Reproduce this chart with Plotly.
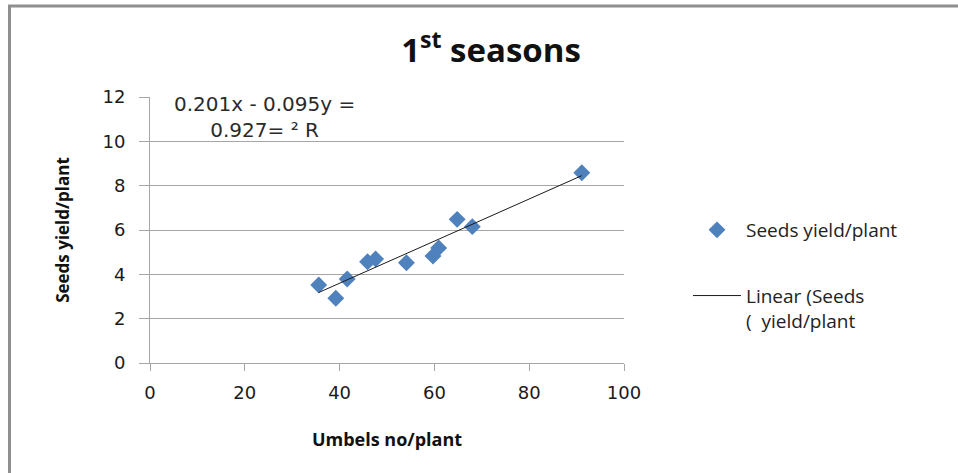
import plotly.graph_objects as go

# Umbels per plant vs. seed yield per plant, 1st season
umbels = [35.6, 39.2, 41.6, 45.9, 47.6, 54.1, 59.7, 60.9, 64.8, 68.0, 91.1]
seed_yield = [3.52, 2.92, 3.79, 4.57, 4.69, 4.52, 4.83, 5.19, 6.48, 6.15, 8.58]

# Linear trendline as printed on the chart: y = 0.095x - 0.201, R² = 0.927
slope = 0.095
intercept = -0.201
r_squared = 0.927

x_ticks = [0, 20, 40, 60, 80, 100]
y_ticks = [0, 2, 4, 6, 8, 10, 12]

W, H = 958, 473
L, R, T, B = 150, 334, 97, 110
pw, ph = W - L - R, H - T - B

def px_x(p):
    return (p - L) / pw

def px_y(p):
    return (H - B - p) / ph

trend_x = [min(umbels), max(umbels)]
trend_y = [slope * v + intercept for v in trend_x]

fig = go.Figure()
fig.add_trace(go.Scatter(
    x=umbels, y=seed_yield, mode="markers", name="Seeds yield/plant",
    legendgroup="pts",
    marker=dict(symbol="diamond", size=13, color="#4F81BD"),
))
fig.add_trace(go.Scatter(
    x=trend_x, y=trend_y, mode="lines", name="Linear (Seeds<br>(  yield/plant",
    legendgroup="fit",
    line=dict(color="#1a1a1a", width=1),
))

axis_font = dict(family="DejaVu Sans, sans-serif", size=18, color="#1a1a1a")
title_font = dict(family="Open Sans, sans-serif", size=17, color="#111111")

fig.update_xaxes(
    range=[0, 100], tickvals=x_ticks, showgrid=False, zeroline=False,
    showline=True, linecolor="#a6a6a6", linewidth=1,
    ticks="outside", ticklen=7, tickcolor="#a6a6a6",
    tickfont=axis_font, ticklabelstandoff=6,
    title=dict(text="<b>Umbels no/plant</b>", font=dict(title_font, size=18), standoff=31),
)
fig.update_yaxes(
    range=[0, 12], tickvals=y_ticks, showgrid=True, gridcolor="#a6a6a6", gridwidth=1,
    zeroline=False, showline=True, linecolor="#a6a6a6", linewidth=1,
    ticks="outside", ticklen=10, tickcolor="#a6a6a6",
    tickfont=axis_font, ticklabelstandoff=10,
    title=dict(text="<b>Seeds yield/plant</b>", font=title_font, standoff=28),
)

fig.add_annotation(
    x=px_x(264), y=px_y(117), xref="paper", yref="paper",
    xanchor="center", yanchor="middle",
    text=f"{intercept * -1:.3f}x - {slope:.3f}y =<br>{r_squared:.3f}= ² R",
    showarrow=False, align="center",
    font=dict(family="DejaVu Sans, sans-serif", size=20, color="#2a2a2a"),
)

# Outer frame (left and top edges)
fig.add_shape(type="line", xref="paper", yref="paper",
              x0=px_x(9.5), x1=px_x(9.5), y0=px_y(5), y1=px_y(480),
              line=dict(color="#8f8f8f", width=3))
fig.add_shape(type="line", xref="paper", yref="paper",
              x0=px_x(8), x1=px_x(965), y0=px_y(6), y1=px_y(6),
              line=dict(color="#8f8f8f", width=3))

fig.update_layout(
    width=W, height=H,
    margin=dict(l=L, r=R, t=T, b=B),
    paper_bgcolor="white", plot_bgcolor="white",
    title=dict(text="<b>1<sup>st</sup> seasons</b>", x=491 / W, xanchor="center",
               y=1 - 50 / H, yanchor="middle",
               font=dict(family="Open Sans, sans-serif", size=33, color="#111111")),
    legend=dict(x=px_x(688), y=px_y(211), xanchor="left", yanchor="top",
                font=dict(family="Open Sans, sans-serif", size=19, color="#222222"),
                tracegroupgap=38, itemwidth=48, valign="top",
                bgcolor="rgba(0,0,0,0)"),
)

fig.write_html("out.html")
